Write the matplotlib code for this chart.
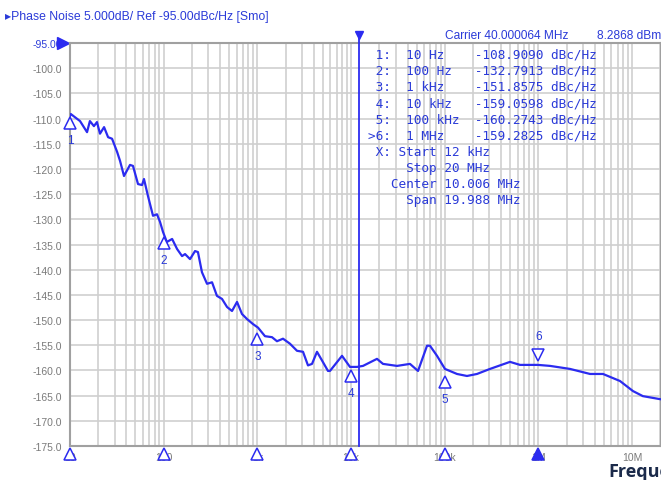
import numpy as np
import matplotlib
matplotlib.use("Agg")
from matplotlib import pyplot as plt
from matplotlib import transforms

# trace (offset frequency in Hz, phase noise in dBc/Hz)
freq_hz = [10, 10.2, 12.8, 15.2, 16.3, 18.0, 19.4, 20.9, 23.1, 25.5, 28.1, 31.8,
           34.2, 37.7, 43.7, 47.0, 53.2, 58.7, 61.6, 68.0, 76.9, 84.8, 91.3, 98.3,
           108, 123, 139, 157, 169, 191, 216, 232, 256, 290, 328, 370, 419, 474,
           536, 606, 685, 775, 898, 1015, 1205, 1432, 1618, 1876, 2228, 2647,
           3068, 3467, 3828, 4325, 4887, 5667, 5952, 8000, 9730, 11560, 13400,
           18900, 21900, 30900, 42500, 51800, 64600, 69500, 82600, 100400,
           135000, 172500, 220600, 303600, 496500, 635000, 989000, 1.33e6,
           2.17e6, 3.55e6, 4.88e6, 7.41e6, 10.2e6, 13.0e6, 19.8e6]
noise_dbc = [-109.5, -109.1, -110.5, -112.7, -110.5, -111.5, -110.7, -113.0, -111.7,
             -113.7, -114.0, -116.6, -118.4, -121.4, -119.2, -119.4, -123.0, -123.2,
             -122.0, -125.4, -129.3, -129.0, -130.5, -132.5, -134.5, -133.9, -135.9,
             -137.3, -136.9, -137.9, -136.3, -136.5, -140.5, -142.8, -142.5, -145.2,
             -145.8, -147.4, -148.2, -146.4, -148.8, -149.8, -150.8, -151.5, -153.2,
             -153.4, -154.2, -153.7, -154.7, -156.1, -156.3, -159.0, -158.7, -156.3,
             -158.0, -160.1, -160.1, -157.1, -159.3, -159.3, -159.1, -157.7, -158.7,
             -159.1, -158.7, -160.1, -155.1, -155.1, -157.1, -159.7, -160.7, -161.1,
             -160.7, -159.7, -158.3, -158.9, -158.9, -159.1, -159.7, -160.7, -160.7,
             -162.1, -164.1, -165.1, -165.7]

marker_hz = [10, 100, 1e3, 1e4, 1e5, 1e6]
marker_dbc = [-108.9090, -132.7913, -151.8575, -159.0598, -160.2743, -159.2825]
marker_freq_text = ["10 Hz", "100 Hz", "1 kHz", "10 kHz", "100 kHz", "1 MHz"]
marker_names = ["1:", "2:", "3:", "4:", "5:", ">6:"]

y_ticks = list(range(-95, -176, -5))
y_tick_labels = ["-95.00"] + ["%.1f" % v for v in y_ticks[1:]]
x_ticks = [10, 100, 1e3, 1e4, 1e5, 1e6, 1e7]
x_tick_labels = ["10", "100", "1k", "10k", "100k", "1M", "10M"]
start_hz = 12e3

blue = "#2b2bf0"
textblue = "#2a3ad8"
gray = "#7a7a7a"
gridc = "#cfcfcf"
sans = ["Liberation Sans", "DejaVu Sans"]

fig = plt.figure(figsize=(6.61, 4.81), dpi=100)
ax = fig.add_axes([70 / 661, 34 / 481, 591 / 661, 403 / 481])

ax.set_xscale("log")

# grid: decades + 2..9 in every decade, all the same weight
minor = [m * 10 ** d for d in range(1, 8) for m in range(2, 10)]
ax.set_xticks(x_ticks)
ax.set_xticks(minor, minor=True)
ax.set_xticklabels(x_tick_labels)
ax.set_yticks(y_ticks)
ax.set_yticklabels(y_tick_labels)
ax.set_xlim(10, 2.03e7)
ax.set_ylim(-175, -95)
ax.grid(True, which="both", axis="x", color=gridc, lw=1.2)
ax.grid(True, which="major", axis="y", color=gridc, lw=1.2)
ax.tick_params(which="both", length=0)
ax.tick_params(axis="y", colors=gray, labelsize=7.5, pad=6)
ax.tick_params(axis="x", colors=gray, labelsize=7.5, pad=4)
ax.get_yticklabels()[0].set_color(textblue)
for lab in ax.get_xticklabels() + ax.get_yticklabels():
    lab.set_family(sans)
for s in ax.spines.values():
    s.set_color("#a0a0a0")
    s.set_linewidth(1.5)
ax.set_axisbelow(True)

# trace
ax.plot(freq_hz, noise_dbc, color=blue, lw=1.6, zorder=3)

# start marker line
ax.plot([start_hz, start_hz], [0, 1.025], transform=ax.get_xaxis_transform(),
        color=blue, lw=1.3, clip_on=False, zorder=4)
ax.plot([start_hz], [1.02], transform=ax.get_xaxis_transform(), marker="v",
        color=blue, ms=6, clip_on=False, zorder=4)

# ref level arrow
ax.plot([-0.012], [1.0], transform=ax.transAxes, marker=">", color=blue,
        ms=9, clip_on=False)

# markers on trace
below = transforms.offset_copy(ax.transData, fig=fig, x=0, y=-10, units="dots")
above = transforms.offset_copy(ax.transData, fig=fig, x=0, y=12, units="dots")
for i in range(6):
    if i < 5:
        ax.plot([marker_hz[i]], [marker_dbc[i]], transform=below, marker="^",
                ms=8, mfc="white", mec=blue, mew=1.1, clip_on=False, zorder=5)
        ax.annotate(str(i + 1), (marker_hz[i], marker_dbc[i]), xytext=(0, -27),
                    textcoords="offset pixels", ha="center", va="center",
                    color=textblue, fontsize=8.5, family=sans)
    else:
        ax.plot([marker_hz[i]], [marker_dbc[i]], transform=above, marker="v",
                ms=8, mfc="white", mec=blue, mew=1.1, clip_on=False, zorder=5)
        ax.annotate(str(i + 1), (marker_hz[i], marker_dbc[i]), xytext=(0, 31),
                    textcoords="offset pixels", ha="center", va="center",
                    color=textblue, fontsize=8.5, family=sans)

# markers on the x axis
for i in range(6):
    ax.plot([marker_hz[i]], [-0.02], transform=ax.get_xaxis_transform(),
            marker="^", ms=9, mfc=blue if i == 5 else "white", mec=blue,
            mew=1.1, clip_on=False, zorder=6)

# header texts
fig.text(5 / 661, 1 - 17 / 481, "\u25b8Phase Noise 5.000dB/ Ref -95.00dBc/Hz [Smo]",
         color=textblue, fontsize=8.8, family=sans, va="center")
fig.text(445 / 661, 1 - 36 / 481, "Carrier 40.000064 MHz", color=textblue,
         fontsize=8.6, family=sans, va="center")
fig.text(597 / 661, 1 - 36 / 481, "8.2868 dBm", color=textblue,
         fontsize=8.6, family=sans, va="center")

# marker table
rows = []
for i in range(6):
    rows.append("%3s  %-9s%.4f dBc/Hz" % (marker_names[i], marker_freq_text[i], marker_dbc[i]))
rows.append(" X: Start 12 kHz")
rows.append("     Stop 20 MHz")
rows.append("   Center 10.006 MHz")
rows.append("     Span 19.988 MHz")
for i, r in enumerate(rows):
    fig.text(368 / 661, 1 - (55 + i * 16.2) / 481, r, color=textblue,
             fontsize=9.2, family="DejaVu Sans Mono", va="center")

fig.text(608 / 661, 1 - 472 / 481, "Frequency", color="#1b2a4a", fontsize=13,
         fontweight="bold", family="Open Sans", va="center")

fig.savefig("out.png", dpi=100)
